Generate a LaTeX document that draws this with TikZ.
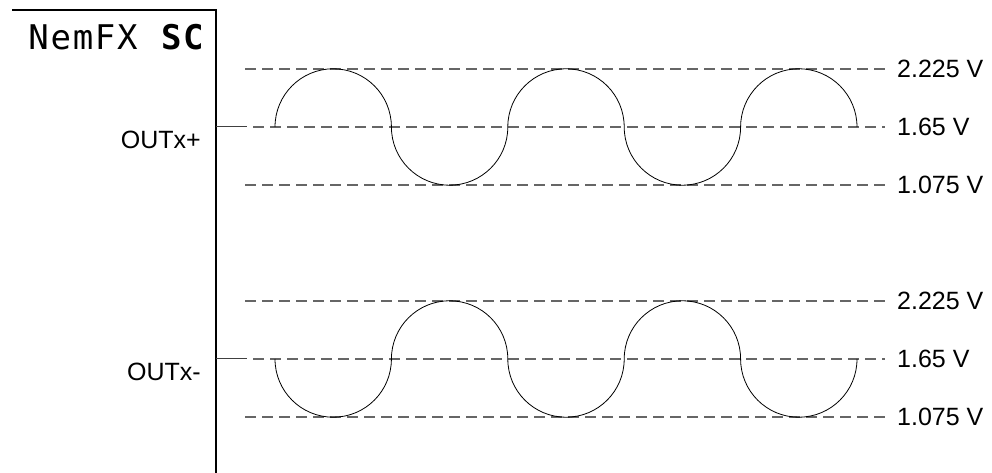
\documentclass[tikz,border=0pt]{standalone}
\usepackage{fontspec}
\setmainfont{Liberation Sans}
\setmonofont{DejaVu Sans Mono}[LetterSpace=5]

\tikzset{
  frame/.style={line width=2pt},
  stub/.style={draw=black!75, line width=1pt},
  refline/.style={draw=black!60, line width=1.2pt, dash pattern=on 11pt off 6pt},
  wave/.style={line width=0.8pt},
  vlabel/.style={anchor=west, inner ysep=0pt, inner xsep=12pt, font=\fontsize{25}{29}\selectfont},
  outlabel/.style={anchor=east, inner sep=0pt, font=\fontsize{25}{29}\selectfont},
}

\begin{document}
\begin{tikzpicture}[x=1pt,y=1pt]
    \useasboundingbox (0,0) rectangle (992,473);

    % Block outline
    \coordinate (tl) at (12,463);
    \coordinate (tr) at (216,463);
    \coordinate (br) at (216,0);
    \draw[frame] (tl) -- (tr) -- (br);
    \node[anchor=base east, inner sep=0pt, font=\ttfamily\fontsize{34}{38}\selectfont] (title) at (206,423) {NemFX \textbf{SC}};

    % OUTx+ levels
    \node[outlabel] (outp) at (201,333) {OUTx+};
    \node[vlabel] (hiP) at (885,404) {2.225 V};
    \node[vlabel] (midP) at (885,346) {1.65 V};
    \node[vlabel] (loP) at (885,288) {1.075 V};
    \coordinate (pinP) at (216,346);
    \coordinate (stubP) at (247,346);
    \draw[refline] (245,404) -- (hiP.west);
    \draw[refline] (253,346) -- (midP.west);
    \draw[refline] (245,288) -- (loP.west);
    \draw[stub] (pinP) -- (stubP);

    % OUTx- levels
    \node[outlabel] (outn) at (201,101) {OUTx-};
    \node[vlabel] (hiN) at (885,172) {2.225 V};
    \node[vlabel] (midN) at (885,114) {1.65 V};
    \node[vlabel] (loN) at (885,56) {1.075 V};
    \coordinate (pinN) at (216,114);
    \coordinate (stubN) at (247,114);
    \draw[refline] (245,172) -- (hiN.west);
    \draw[refline] (253,114) -- (midN.west);
    \draw[refline] (245,56) -- (loN.west);
    \draw[stub] (pinN) -- (stubN);

    % Waveforms
    \draw[wave] (275,346) arc (180:0:58.2) arc (180:360:58.2) arc (180:0:58.2)
        arc (180:360:58.2) arc (180:0:58.2);
    \draw[wave] (275,114) arc (180:360:58.2) arc (180:0:58.2) arc (180:360:58.2)
        arc (180:0:58.2) arc (180:360:58.2);
\end{tikzpicture}
\end{document}
